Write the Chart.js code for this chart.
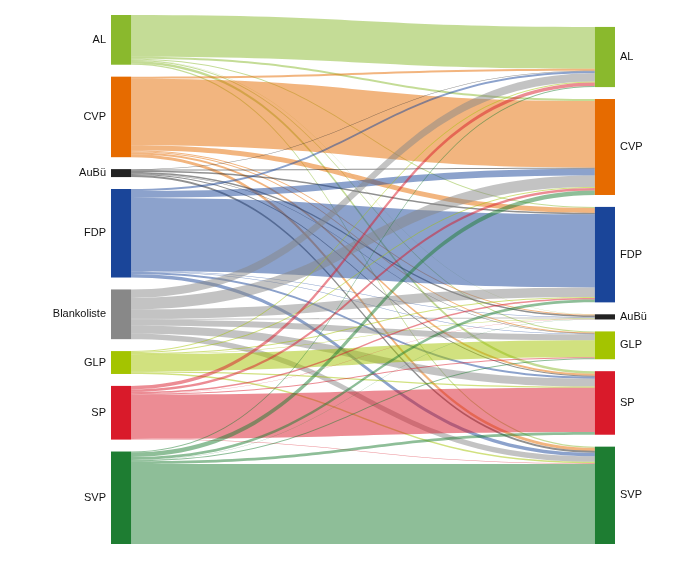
<!DOCTYPE html>
<html>
<head>
<meta charset="utf-8">
<script src="https://cdn.jsdelivr.net/npm/chart.js@4.4.1/dist/chart.umd.min.js"></script>
<style>
  body { margin: 0; background: #fff; }
  #wrap { width: 680px; height: 561px; }
</style>
</head>
<body>
<div id="wrap"><canvas id="chart"></canvas></div>
<script>
// left column (from) and right column (to)
const sources = ["AL", "CVP", "AuBü", "FDP", "Blankoliste", "GLP", "SP", "SVP"];
const targets = ["AL", "CVP", "FDP", "AuBü", "GLP", "SP", "SVP"];

// flows per source, in the order of targets
const fromAL    = [42, 2, 1, 0.3, 1, 2.5, 1.2];
const fromCVP   = [2, 67, 5, 1, 1, 2, 3];
const fromAuBu  = [0.5, 1, 1.5, 1.5, 0.5, 1, 2];
const fromFDP   = [2, 7, 73.5, 0.5, 0.5, 2, 3.5];
const fromBlank = [8.5, 11.5, 9.5, 1, 6, 8, 5.5];
const fromGLP   = [1, 1, 1, 0.3, 17, 1.2, 1.5];
const fromSP    = [3.5, 2.5, 1.5, 0.3, 1, 44.5, 0.7];
const fromSVP   = [1, 4.5, 3, 0.3, 1, 2.7, 80.5];
const flows = [fromAL, fromCVP, fromAuBu, fromFDP, fromBlank, fromGLP, fromSP, fromSVP];

const partyColors = {
  "AL": "#8ab92d",
  "CVP": "#e66b00",
  "AuBü": "#222222",
  "FDP": "#1a4599",
  "Blankoliste": "#888888",
  "GLP": "#a4c400",
  "SP": "#d91a2a",
  "SVP": "#1e7d32"
};

const gap = 12;
const nodeW = 0.04;

const sum = a => a.reduce((s, v) => s + v, 0);
const outTotals = flows.map(sum);
const inTotals = targets.map((t, j) => sum(flows.map(r => r[j])));
const leftExtent = sum(outTotals) + (sources.length - 1) * gap;
const rightExtent = sum(inTotals) + (targets.length - 1) * gap;
const yMax = Math.max(leftExtent, rightExtent);

function stack(sizes, start) {
  const pos = [];
  let y = start;
  sizes.forEach(s => { pos.push(y); y += s + gap; });
  return pos;
}
const leftY = stack(outTotals, yMax - leftExtent);
const rightY = stack(inTotals, yMax - rightExtent);

function alpha(hex, a) {
  const n = parseInt(hex.slice(1), 16);
  return `rgba(${n >> 16},${(n >> 8) & 255},${n & 255},${a})`;
}

const sankeyPlugin = {
  id: "sankey",
  afterDatasetsDraw(chart) {
    const { ctx, scales: { x, y } } = chart;
    const xl = x.getPixelForValue(0), xl2 = x.getPixelForValue(nodeW);
    const xr = x.getPixelForValue(1 - nodeW), xr2 = x.getPixelForValue(1);
    const xm = (xl2 + xr) / 2;
    ctx.save();

    // flows
    const inOffset = targets.map(() => 0);
    const outOffset = sources.map(() => 0);
    const bands = [];
    sources.forEach((s, i) => {
      targets.forEach((t, j) => {
        const v = flows[i][j];
        bands.push({ i, j, v, a: leftY[i] + outOffset[i], b: 0 });
        outOffset[i] += v;
      });
    });
    targets.forEach((t, j) => {
      sources.forEach((s, i) => {
        const band = bands.find(f => f.i === i && f.j === j);
        band.b = rightY[j] + inOffset[j];
        inOffset[j] += band.v;
      });
    });
    bands.forEach(f => {
      const s0 = y.getPixelForValue(f.a), s1 = y.getPixelForValue(f.a + f.v);
      const t0 = y.getPixelForValue(f.b), t1 = y.getPixelForValue(f.b + f.v);
      ctx.beginPath();
      ctx.moveTo(xl2, s0);
      ctx.bezierCurveTo(xm, s0, xm, t0, xr, t0);
      ctx.lineTo(xr, t1);
      ctx.bezierCurveTo(xm, t1, xm, s1, xl2, s1);
      ctx.closePath();
      ctx.fillStyle = alpha(partyColors[sources[f.i]], 0.5);
      ctx.fill();
    });

    // nodes and labels
    ctx.font = "11px 'Liberation Sans', Arial, sans-serif";
    ctx.textBaseline = "middle";
    sources.forEach((s, i) => {
      const top = y.getPixelForValue(leftY[i]), bot = y.getPixelForValue(leftY[i] + outTotals[i]);
      ctx.fillStyle = partyColors[s];
      ctx.fillRect(xl, top, xl2 - xl, bot - top);
      ctx.fillStyle = "#111";
      ctx.textAlign = "right";
      ctx.fillText(s, xl - 5, (top + bot) / 2);
    });
    targets.forEach((t, j) => {
      const top = y.getPixelForValue(rightY[j]), bot = y.getPixelForValue(rightY[j] + inTotals[j]);
      ctx.fillStyle = partyColors[t];
      ctx.fillRect(xr, top, xr2 - xr, bot - top);
      ctx.fillStyle = "#111";
      ctx.textAlign = "left";
      ctx.fillText(t, xr2 + 5, (top + bot) / 2);
    });
    ctx.restore();
  }
};

new Chart(document.getElementById("chart"), {
  type: "scatter",
  data: { datasets: [{ data: [] }] },
  options: {
    responsive: true,
    maintainAspectRatio: false,
    animation: false,
    layout: { padding: { left: 111, right: 65, top: 15, bottom: 17 } },
    plugins: { legend: { display: false }, tooltip: { enabled: false } },
    scales: {
      x: { type: "linear", min: 0, max: 1, display: false },
      y: { type: "linear", min: 0, max: yMax, reverse: true, display: false }
    }
  },
  plugins: [sankeyPlugin]
});
</script>
</body>
</html>
